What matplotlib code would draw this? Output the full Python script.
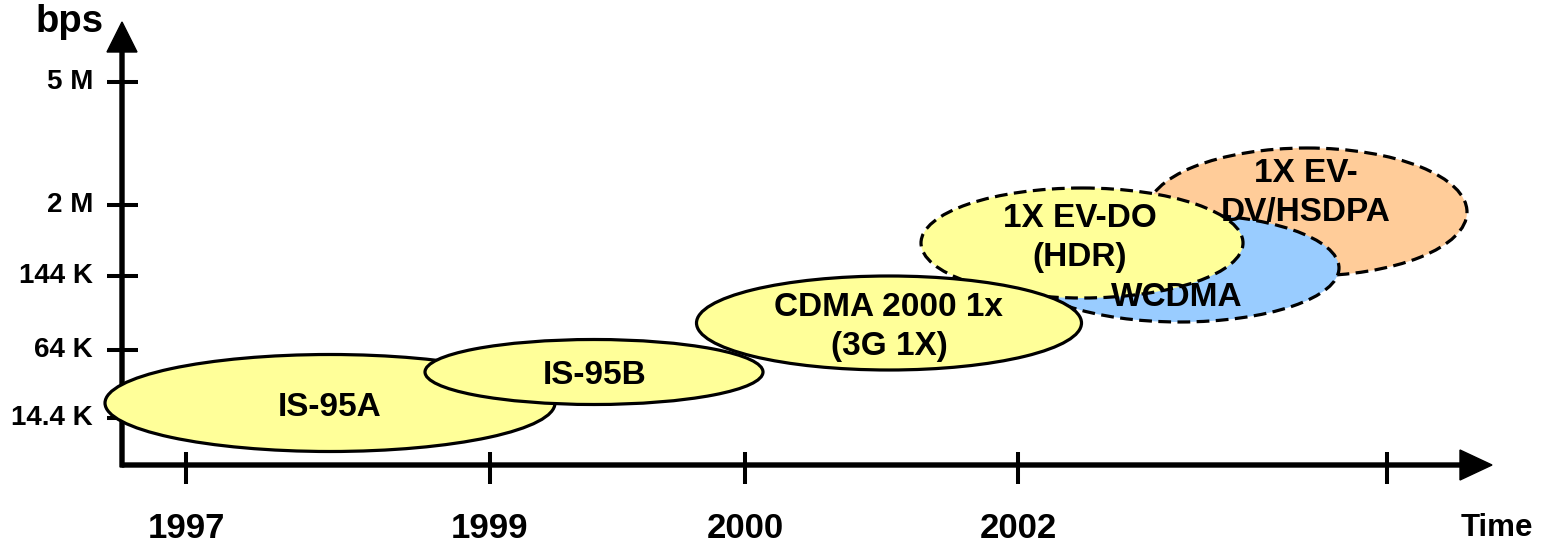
import matplotlib
matplotlib.use('Agg')
from matplotlib import pyplot as plt
from matplotlib.patches import Ellipse

# schematic coordinates (pixel-like units, y grows downwards)
rate_labels = ['5 M', '2 M', '144 K', '64 K', '14.4 K']
rate_pos = [82, 205, 276, 350, 418]
year_labels = ['1997', '1999', '2000', '2002', '']
year_pos = [186, 490, 745, 1018, 1387]

# technologies, drawn back to front
techs = ['1X EV-\nDV/HSDPA', 'WCDMA', '1X EV-DO\n(HDR)', 'CDMA 2000 1x\n(3G 1X)', 'IS-95A', 'IS-95B']
tech_x = [1307, 1180, 1082, 889, 330, 594]
tech_y = [212, 268, 243, 323, 403, 372]
tech_w = [320, 318, 322, 385, 450, 338]
tech_h = [128, 108, 110, 94, 97, 65]
tech_color = ['#FFCC99', '#99CCFF', '#FFFF99', '#FFFF99', '#FFFF99', '#FFFF99']
tech_dashed = [True, True, True, False, False, False]
label_x = [1306, 1177, 1080, 889, 330, 595]
label_y = [193, 298, 238, 327, 408, 376]

ORIGIN = (122, 465)
FONT = 'Liberation Sans'


def main():
    fig = plt.figure(figsize=(15.49, 5.46), dpi=100)
    ax = fig.add_axes([0, 0, 1, 1])
    ax.set_xlim(0, 1549)
    ax.set_ylim(546, 0)
    ax.axis('off')

    # axes with arrows
    ax.arrow(ORIGIN[0], ORIGIN[1], 1492 - ORIGIN[0], 0, width=4, head_width=30, head_length=32,
             length_includes_head=True, color='black', zorder=1)
    ax.arrow(ORIGIN[0], ORIGIN[1] + 2, 0, 22 - ORIGIN[1] - 2, width=4, head_width=30, head_length=30,
             length_includes_head=True, color='black', zorder=1)

    # ticks
    ax.hlines(rate_pos, 107, 138, color='black', lw=2.9, zorder=1)
    ax.vlines(year_pos, 452, 484, color='black', lw=2.9, zorder=1)
    for lab, y in zip(rate_labels, rate_pos):
        ax.text(93, y, lab, ha='right', va='center', fontsize=20, fontweight='bold',
                family=FONT, zorder=1)
    for lab, x in zip(year_labels, year_pos):
        ax.text(x, 538, lab, ha='center', va='baseline', fontsize=25, fontweight='bold', family=FONT)
    ax.text(70, 22, 'bps', ha='center', va='center', fontsize=27.5, fontweight='bold', family=FONT)
    ax.text(1497, 528, 'Time', ha='center', va='center', fontsize=22.5, fontweight='bold', family=FONT)

    # technology ellipses
    for i, name in enumerate(techs):
        e = Ellipse((tech_x[i], tech_y[i]), tech_w[i], tech_h[i], facecolor=tech_color[i],
                    edgecolor='black', lw=2.3, linestyle=(0, (4, 2)) if tech_dashed[i] else '-',
                    zorder=2 + i)
        ax.add_patch(e)
        ax.text(label_x[i], label_y[i], name, ha='center', va='center', fontsize=24,
                fontweight='bold', family=FONT, linespacing=1.3, zorder=20)

    fig.savefig('out.png', dpi=100)


if __name__ == '__main__':
    main()
